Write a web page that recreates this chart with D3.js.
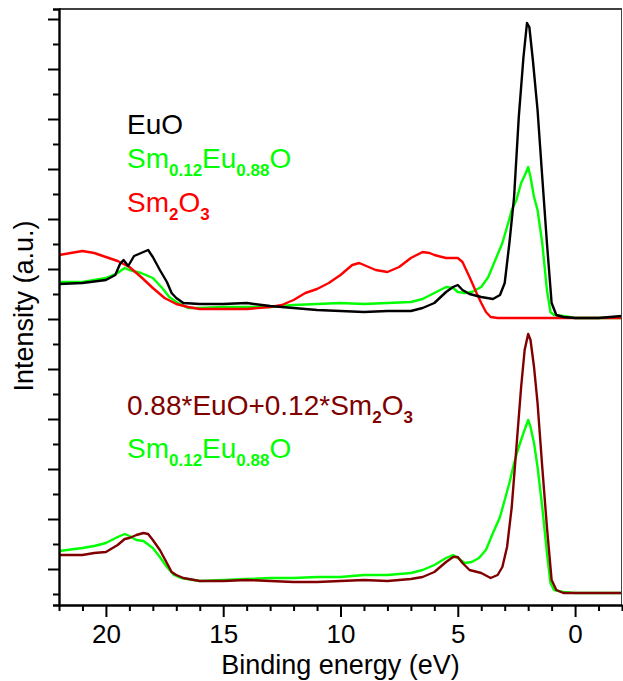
<!DOCTYPE html>
<html>
<head>
<meta charset="utf-8">
<script src="https://cdn.jsdelivr.net/npm/d3@7"></script>
<style>
  html, body { margin: 0; padding: 0; background: #fff; }
  svg { display: block; font-family: "Liberation Sans", Arial, sans-serif; }
</style>
</head>
<body>
<svg id="chart" width="623" height="681"></svg>
<script>
// Valence-band photoemission spectra (binding energy in eV, intensity in a.u.)

// Upper panel: EuO
const euoE = [22, 21, 20, 19.6, 19.4, 19.25, 19.05, 18.8, 18.5, 18.2, 18, 17.7, 17.4, 17.2, 17, 16.7, 16, 15, 14, 13, 12, 11, 10, 9, 8, 7, 6.5, 6, 5.5, 5.2, 5, 4.8, 4.5, 4, 3.5, 3.2, 3, 2.8, 2.6, 2.4, 2.2, 2.05, 1.95, 1.8, 1.6, 1.4, 1.2, 1, 0.8, 0.5, 0, -1, -2];
const euoI = [2.40, 2.44, 2.56, 2.76, 3.20, 3.36, 3.12, 3.52, 3.64, 3.76, 3.48, 2.96, 2.48, 2.04, 1.84, 1.64, 1.60, 1.60, 1.64, 1.52, 1.44, 1.36, 1.32, 1.28, 1.32, 1.32, 1.44, 1.64, 2.08, 2.28, 2.36, 2.16, 2.00, 1.88, 1.80, 1.96, 2.44, 4.04, 5.88, 9.08, 11.48, 12.84, 12.68, 11.36, 9.36, 6.68, 4.04, 1.64, 1.16, 1.08, 1.04, 1.04, 1.12];

// Upper panel: Sm0.12Eu0.88O
const smEuTopE = [22, 21, 20, 19.5, 19.2, 19, 18.5, 18, 17.6, 17.3, 17, 16.5, 16, 15, 14, 13, 12, 11, 10, 9, 8, 7, 6.5, 6, 5.5, 5.2, 5, 4.7, 4.4, 4, 3.7, 3.4, 3.1, 2.85, 2.7, 2.5, 2.3, 2.1, 2, 1.9, 1.75, 1.6, 1.4, 1.2, 1.05, 0.9, 0.5, 0, -2];
const smEuTopI = [2.48, 2.48, 2.64, 2.84, 3.04, 2.96, 2.84, 2.64, 2.24, 1.88, 1.68, 1.44, 1.44, 1.48, 1.48, 1.48, 1.56, 1.60, 1.64, 1.60, 1.64, 1.68, 1.80, 2.04, 2.28, 2.24, 2.08, 2.04, 2.08, 2.28, 2.68, 3.36, 4.04, 4.84, 5.36, 5.76, 6.44, 6.84, 7.08, 6.68, 5.88, 5.36, 4.04, 2.16, 1.28, 1.16, 1.12, 1.04, 1.04];

// Upper panel: Sm2O3
const sm2o3E = [22, 21.5, 21, 20.5, 20, 19.5, 19, 18.5, 18, 17.5, 17, 16.5, 16, 15, 14, 13, 12.5, 12, 11.5, 11, 10.5, 10, 9.5, 9.2, 9, 8.5, 8, 7.5, 7, 6.5, 6.2, 6, 5.5, 5, 4.8, 4.5, 4.2, 4, 3.8, 3.6, 3.3, 0, -2];
const sm2o3I = [3.56, 3.64, 3.72, 3.64, 3.48, 3.32, 3.08, 2.68, 2.24, 1.84, 1.60, 1.48, 1.40, 1.40, 1.40, 1.48, 1.56, 1.76, 2.04, 2.20, 2.44, 2.76, 3.16, 3.24, 3.16, 2.96, 2.88, 3.08, 3.44, 3.68, 3.64, 3.56, 3.44, 3.44, 3.28, 2.68, 2.04, 1.64, 1.28, 1.08, 1.04, 1.04, 1.04];

// Lower panel: 0.88*EuO + 0.12*Sm2O3
const mixE = [22, 21, 20.5, 20, 19.5, 19.2, 19, 18.7, 18.4, 18.2, 18, 17.7, 17.4, 17.2, 17, 16.7, 16, 15, 14, 13, 12, 11, 10, 9, 8, 7, 6.5, 6, 5.5, 5.2, 5, 4.8, 4.5, 4, 3.6, 3.3, 3.1, 2.9, 2.7, 2.5, 2.3, 2.15, 2, 1.9, 1.75, 1.6, 1.4, 1.2, 1, 0.8, 0.5, 0, -2];
const mixI = [2.56, 2.56, 2.64, 2.68, 2.96, 3.20, 3.24, 3.36, 3.44, 3.40, 3.16, 2.76, 2.24, 1.88, 1.76, 1.64, 1.52, 1.52, 1.56, 1.52, 1.48, 1.48, 1.52, 1.56, 1.52, 1.60, 1.68, 1.88, 2.28, 2.48, 2.48, 2.24, 1.96, 1.84, 1.64, 1.76, 2.08, 2.88, 4.48, 6.88, 9.28, 10.76, 11.40, 11.16, 10.08, 8.64, 6.08, 3.68, 1.56, 1.16, 1.04, 1.04, 1.04];

// Lower panel: Sm0.12Eu0.88O
const smEuLowE = [22, 21, 20.5, 20, 19.5, 19.2, 19, 18.7, 18.4, 18, 17.7, 17.4, 17.1, 16.8, 16, 15, 14, 13, 12, 11, 10, 9, 8, 7, 6.5, 6, 5.5, 5.2, 5, 4.7, 4.4, 4.1, 3.8, 3.5, 3.2, 3, 2.8, 2.6, 2.4, 2.2, 2, 1.9, 1.75, 1.6, 1.4, 1.2, 1.05, 0.9, 0.5, 0, -2];
const smEuLowI = [2.72, 2.84, 2.92, 3.04, 3.28, 3.40, 3.32, 3.16, 3.12, 2.84, 2.48, 2.08, 1.76, 1.64, 1.52, 1.56, 1.60, 1.64, 1.64, 1.68, 1.68, 1.76, 1.76, 1.84, 1.96, 2.16, 2.44, 2.56, 2.44, 2.24, 2.28, 2.44, 2.76, 3.44, 4.08, 4.76, 5.44, 6.24, 6.88, 7.44, 7.96, 7.68, 7.04, 6.08, 4.48, 2.64, 1.44, 1.16, 1.08, 1.04, 1.04];

// Vertical shift of the upper set of spectra
const upperOffset = 11;

// Axis ticks
const xMajorTicks = [20, 15, 10, 5, 0];
const xMinorTicks = d3.range(22, -3, -1);
const yTicks = d3.range(1, 25, 1);

const svg = d3.select("#chart");
const m = { left: 59, right: 622, top: 9, bottom: 605 };

const x = d3.scaleLinear().domain([22, -2]).range([m.left, m.right]);
const y = d3.scaleLinear().domain([0.56, 24.4]).range([m.bottom, m.top]);

svg.append("defs").append("clipPath").attr("id", "plot-clip")
  .append("rect").attr("x", m.left).attr("y", m.top)
  .attr("width", m.right - m.left).attr("height", m.bottom - m.top);

const line = d3.line().x(d => x(d[0])).y(d => y(d[1]));

function series(E, I, off) { return E.map((e, i) => [e, I[i] + off]); }

const curves = [
  { data: series(smEuTopE, smEuTopI, upperOffset), color: "#00ff00" },
  { data: series(sm2o3E, sm2o3I, upperOffset), color: "#ff0000" },
  { data: series(euoE, euoI, upperOffset), color: "#000000" },
  { data: series(smEuLowE, smEuLowI, 0), color: "#00ff00" },
  { data: series(mixE, mixI, 0), color: "#800000" }
];

const plot = svg.append("g").attr("clip-path", "url(#plot-clip)");
plot.selectAll("path.spec").data(curves).join("path")
  .attr("class", "spec")
  .attr("d", d => line(d.data))
  .attr("fill", "none")
  .attr("stroke", d => d.color)
  .attr("stroke-width", 2.4)
  .attr("stroke-linejoin", "round");

// Frame: top and right edges
svg.append("line").attr("x1", m.left).attr("x2", m.right).attr("y1", m.top).attr("y2", m.top)
  .attr("stroke", "#000").attr("stroke-width", 1.6);
svg.append("line").attr("x1", m.right - 0.5).attr("x2", m.right - 0.5).attr("y1", m.top).attr("y2", m.bottom)
  .attr("stroke", "#444").attr("stroke-width", 1);

// Left axis with alternating long/short ticks
const yAxis = d3.axisLeft(y).tickValues(yTicks).tickFormat("").tickSizeOuter(0).tickSize(6);
const gy = svg.append("g").attr("transform", `translate(${m.left},0)`).call(yAxis);
gy.selectAll(".tick line").attr("x2", d => d % 2 === 0 ? -11 : -6).attr("stroke-width", 2);
gy.select(".domain").attr("stroke-width", 2.4);

// Bottom axis: minor ticks every 1 eV, major labelled every 5 eV
const xMinor = d3.axisBottom(x).tickValues(xMinorTicks.filter(v => v % 5 !== 0)).tickFormat("").tickSize(6).tickSizeOuter(0);
const gxm = svg.append("g").attr("transform", `translate(0,${m.bottom})`).call(xMinor);
gxm.selectAll(".tick line").attr("stroke-width", 2);
gxm.select(".domain").attr("stroke-width", 2.4);

const xMajor = d3.axisBottom(x).tickValues(xMajorTicks).tickFormat(d3.format("d")).tickSize(12).tickSizeOuter(0).tickPadding(8);
const gx = svg.append("g").attr("transform", `translate(0,${m.bottom})`).call(xMajor);
gx.select(".domain").remove();
gx.selectAll(".tick line").attr("stroke-width", 2);
gx.selectAll(".tick text").attr("font-size", 26).attr("fill", "#000")
  .attr("font-family", "'Liberation Sans', Arial, sans-serif");

// Axis titles
svg.append("text").attr("x", (m.left + m.right) / 2).attr("y", 674)
  .attr("text-anchor", "middle").attr("font-size", 27).text("Binding energy (eV)");
svg.append("text").attr("transform", "translate(33,306) rotate(-90)")
  .attr("text-anchor", "middle").attr("font-size", 27).text("Intensity (a.u.)");

// Legend labels with subscripts
const labels = [
  { y: 134, color: "#000000", parts: [["EuO", false]] },
  { y: 168, color: "#00ff00", parts: [["Sm", false], ["0.12", true], ["Eu", false], ["0.88", true], ["O", false]] },
  { y: 212, color: "#ff0000", parts: [["Sm", false], ["2", true], ["O", false], ["3", true]] },
  { y: 415, color: "#800000", parts: [["0.88*EuO+0.12*Sm", false], ["2", true], ["O", false], ["3", true]] },
  { y: 458, color: "#00ff00", parts: [["Sm", false], ["0.12", true], ["Eu", false], ["0.88", true], ["O", false]] }
];
labels.forEach(l => {
  const t = svg.append("text").attr("x", 127).attr("y", l.y).attr("fill", l.color).attr("font-size", 28);
  let shifted = false;
  l.parts.forEach(([s, sub]) => {
    const ts = t.append("tspan").text(s);
    if (sub && !shifted) { ts.attr("dy", 8).attr("font-size", 17).attr("font-weight", "bold"); shifted = true; }
    else if (sub) { ts.attr("font-size", 17).attr("font-weight", "bold"); }
    else if (shifted) { ts.attr("dy", -8); shifted = false; }
  });
});
</script>
</body>
</html>
